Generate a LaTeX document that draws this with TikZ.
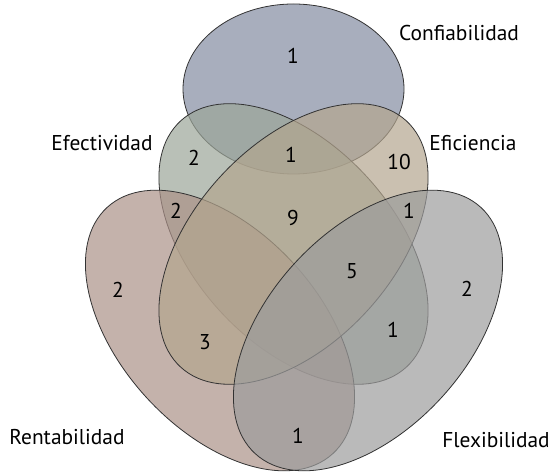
\documentclass[tikz,border=0pt]{standalone}
\usepackage{fontspec}
\setmainfont{PT Sans}
\usepackage{xcolor}

\definecolor{confcol}{RGB}{131,139,161}
\definecolor{efeccol}{RGB}{155,165,152}
\definecolor{eficcol}{RGB}{179,165,142}
\definecolor{rentcol}{RGB}{171,145,136}
\definecolor{flexcol}{RGB}{156,156,156}
\definecolor{rimcol}{RGB}{50,50,50}

\tikzset{
  venn/.style={draw=rimcol, line width=0.8pt, fill opacity=0.7, draw opacity=1},
  setname/.style={font=\fontsize{21.5}{24}\selectfont, inner sep=0pt},
  count/.style={font=\fontsize{21.5}{24}\selectfont, inner sep=0pt}
}

\begin{document}
\begin{tikzpicture}[x=1bp, y=1bp]
\useasboundingbox (0,0) rectangle (549,475);
\draw[venn, fill=confcol] (293.5,386) ellipse [x radius=110.5bp, y radius=85bp];
\draw[venn, fill=efeccol] (293.5,231) circle [x radius=167bp, y radius=99.5bp, rotate=-47.5];
\draw[venn, fill=rentcol] (220,144.5) circle [x radius=167bp, y radius=99.5bp, rotate=-47.5];
\draw[venn, fill=eficcol] (293.5,231) circle [x radius=167bp, y radius=99.5bp, rotate=47.5];
\draw[venn, fill=flexcol] (368,144.5) circle [x radius=167bp, y radius=99.5bp, rotate=47.5];

\node[setname] (conf) at (459,442) {Confiabilidad};
\node[setname] (efec) at (102,332) {Efectividad};
\node[setname] (efic) at (473,332) {Eficiencia};
\node[setname] (rent) at (67,38) {Rentabilidad};
\node[setname] (flex) at (496,35) {Flexibilidad};

\node[count] (nconf) at (293,419) {1};
\node[count] (nefec) at (194,317) {2};
\node[count] (ncef) at (291,320) {1};
\node[count] (nefic) at (399,313) {10};
\node[count] (nrer) at (176,264) {2};
\node[count] (nmid) at (293,257) {9};
\node[count] (nefl) at (409,264) {1};
\node[count] (nall) at (352,204) {5};
\node[count] (nrent) at (118,185) {2};
\node[count] (nflex) at (467,186) {2};
\node[count] (nrme) at (205,133) {3};
\node[count] (nfme) at (393,145) {1};
\node[count] (nrf) at (298,39) {1};
\end{tikzpicture}
\end{document}
